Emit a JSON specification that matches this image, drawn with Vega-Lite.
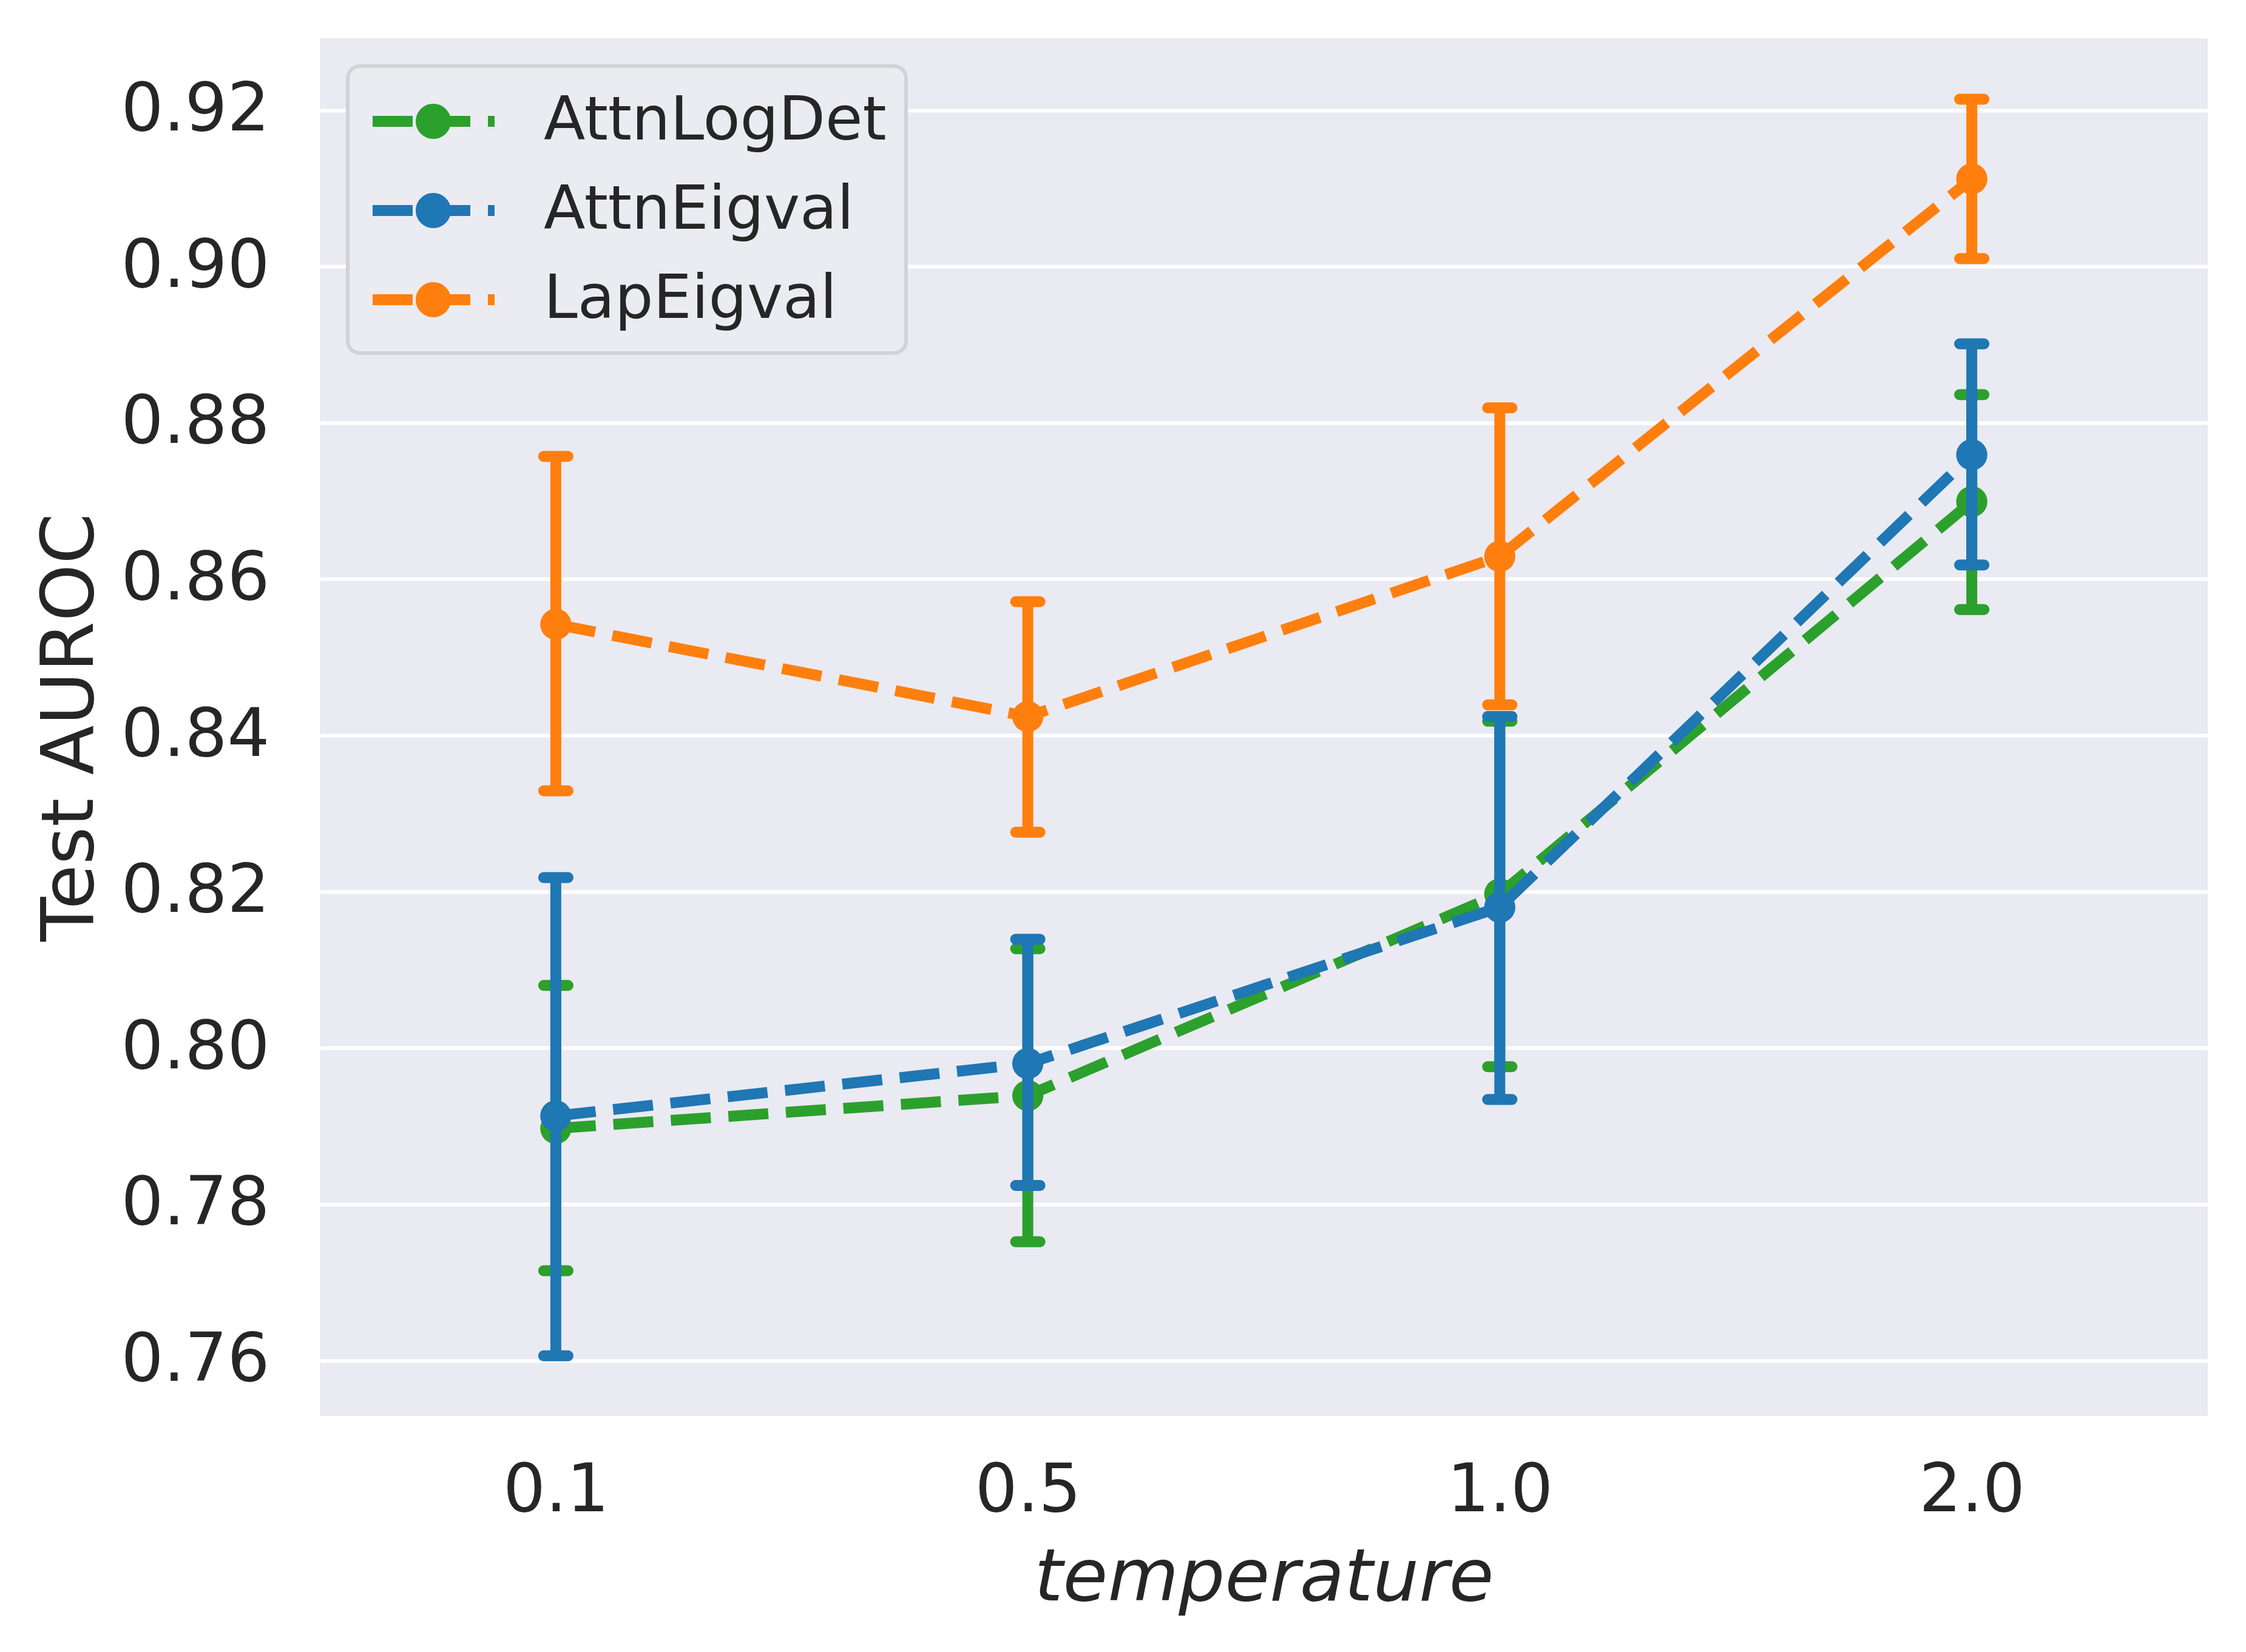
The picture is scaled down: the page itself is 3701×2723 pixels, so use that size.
{
  "$schema": "https://vega.github.io/schema/vega-lite/v6.json",
  "width": 3111,
  "height": 2271,
  "autosize": {"type": "none"},
  "padding": {"left": 527, "top": 63, "right": 63, "bottom": 389},
  "background": "white",
  "data": {
    "values": [
      {"series": "AttnLogDet", "temperature": "0.1", "mean": 0.7897, "lo": 0.7715, "hi": 0.8080},
      {"series": "AttnLogDet", "temperature": "0.5", "mean": 0.7939, "lo": 0.7752, "hi": 0.8127},
      {"series": "AttnLogDet", "temperature": "1.0", "mean": 0.8197, "lo": 0.7976, "hi": 0.8418},
      {"series": "AttnLogDet", "temperature": "2.0", "mean": 0.8699, "lo": 0.8561, "hi": 0.8836},
      {"series": "AttnEigval", "temperature": "0.1", "mean": 0.7913, "lo": 0.7606, "hi": 0.8218},
      {"series": "AttnEigval", "temperature": "0.5", "mean": 0.7980, "lo": 0.7824, "hi": 0.8139},
      {"series": "AttnEigval", "temperature": "1.0", "mean": 0.8180, "lo": 0.7934, "hi": 0.8424},
      {"series": "AttnEigval", "temperature": "2.0", "mean": 0.8759, "lo": 0.8618, "hi": 0.8901},
      {"series": "LapEigval", "temperature": "0.1", "mean": 0.8542, "lo": 0.8329, "hi": 0.8757},
      {"series": "LapEigval", "temperature": "0.5", "mean": 0.8424, "lo": 0.8276, "hi": 0.8571},
      {"series": "LapEigval", "temperature": "1.0", "mean": 0.8629, "lo": 0.8439, "hi": 0.8819},
      {"series": "LapEigval", "temperature": "2.0", "mean": 0.9112, "lo": 0.9010, "hi": 0.9214}
    ]
  },
  "encoding": {
    "x": {
      "field": "temperature",
      "type": "ordinal",
      "sort": ["0.1", "0.5", "1.0", "2.0"],
      "scale": {"type": "point", "padding": 0.5},
      "axis": {"title": "temperature", "titleFontStyle": "italic", "labelAngle": 0, "grid": false, "labelPadding": 69, "titlePadding": 30}
    },
    "color": {
      "field": "series",
      "type": "nominal",
      "scale": {"domain": ["AttnLogDet", "AttnEigval", "LapEigval"], "range": ["#2ca02c", "#1f77b4", "#ff7f0e"]},
      "legend": {
        "title": null,
        "orient": "top-left",
        "offset": 46,
        "padding": 32,
        "fillColor": "#ebebf2",
        "strokeColor": "#d2d2d6",
        "cornerRadius": 20,
        "symbolType": "M-2,0L-0.68,0M-0.1,0L1.22,0M1.8,0L2.02,0M-0.4,0A0.4,0.4,0,1,1,0.4,0A0.4,0.4,0,1,1,-0.4,0Z",
        "symbolSize": 10000,
        "symbolStrokeWidth": 18,
        "symbolOffset": 50,
        "labelOffset": 123,
        "labelFontSize": 100,
        "labelFont": "DejaVu Sans",
        "labelColor": "#262626",
        "labelLimit": 2000,
        "rowPadding": 32,
        "encode": {
          "legend": {"update": {"strokeWidth": {"value": 6}}},
          "symbols": {
            "update": {
              "fill": {"scale": "color", "field": "value"},
              "stroke": {"scale": "color", "field": "value"},
              "strokeWidth": {"value": 18},
              "strokeDash": {"value": []},
              "opacity": {"value": 1},
              "fillOpacity": {"value": 1},
              "strokeOpacity": {"value": 1}
            }
          }
        }
      }
    }
  },
  "layer": [
    {
      "transform": [{"filter": "datum.series === 'AttnLogDet'"}],
      "layer": [
        {"mark": {"type": "rule", "strokeWidth": 18}, "encoding": {"y": {"field": "lo", "type": "quantitative", "scale": {"domain": [0.7529, 0.9292], "nice": false, "zero": false}, "axis": {"title": "Test AUROC", "values": [0.76, 0.78, 0.8, 0.82, 0.84, 0.86, 0.88, 0.9, 0.92], "format": ".2f", "labelPadding": 83, "titlePadding": 150, "grid": true, "labelLimit": 1000}}, "y2": {"field": "hi"}}},
        {"mark": {"type": "tick", "size": 58, "thickness": 18, "cornerRadius": 9, "opacity": 1}, "encoding": {"y": {"field": "lo", "type": "quantitative", "axis": {"title": "Test AUROC", "values": [0.76, 0.78, 0.8, 0.82, 0.84, 0.86, 0.88, 0.9, 0.92], "format": ".2f", "labelPadding": 83, "titlePadding": 150, "grid": true, "labelLimit": 1000}}}},
        {"mark": {"type": "tick", "size": 58, "thickness": 18, "cornerRadius": 9, "opacity": 1}, "encoding": {"y": {"field": "hi", "type": "quantitative", "axis": {"title": "Test AUROC", "values": [0.76, 0.78, 0.8, 0.82, 0.84, 0.86, 0.88, 0.9, 0.92], "format": ".2f", "labelPadding": 83, "titlePadding": 150, "grid": true, "labelLimit": 1000}}}},
        {"mark": {"type": "line", "strokeWidth": 18, "strokeDash": [66, 29]}, "encoding": {"y": {"field": "mean", "type": "quantitative", "axis": {"title": "Test AUROC", "values": [0.76, 0.78, 0.8, 0.82, 0.84, 0.86, 0.88, 0.9, 0.92], "format": ".2f", "labelPadding": 83, "titlePadding": 150, "grid": true, "labelLimit": 1000}}}},
        {"mark": {"type": "point", "filled": true, "size": 2640, "opacity": 1}, "encoding": {"y": {"field": "mean", "type": "quantitative", "axis": {"title": "Test AUROC", "values": [0.76, 0.78, 0.8, 0.82, 0.84, 0.86, 0.88, 0.9, 0.92], "format": ".2f", "labelPadding": 83, "titlePadding": 150, "grid": true, "labelLimit": 1000}}}}
      ]
    },
    {
      "transform": [{"filter": "datum.series === 'AttnEigval'"}],
      "layer": [
        {"mark": {"type": "rule", "strokeWidth": 18}, "encoding": {"y": {"field": "lo", "type": "quantitative", "axis": {"title": "Test AUROC", "values": [0.76, 0.78, 0.8, 0.82, 0.84, 0.86, 0.88, 0.9, 0.92], "format": ".2f", "labelPadding": 83, "titlePadding": 150, "grid": true, "labelLimit": 1000}}, "y2": {"field": "hi"}}},
        {"mark": {"type": "tick", "size": 58, "thickness": 18, "cornerRadius": 9, "opacity": 1}, "encoding": {"y": {"field": "lo", "type": "quantitative", "axis": {"title": "Test AUROC", "values": [0.76, 0.78, 0.8, 0.82, 0.84, 0.86, 0.88, 0.9, 0.92], "format": ".2f", "labelPadding": 83, "titlePadding": 150, "grid": true, "labelLimit": 1000}}}},
        {"mark": {"type": "tick", "size": 58, "thickness": 18, "cornerRadius": 9, "opacity": 1}, "encoding": {"y": {"field": "hi", "type": "quantitative", "axis": {"title": "Test AUROC", "values": [0.76, 0.78, 0.8, 0.82, 0.84, 0.86, 0.88, 0.9, 0.92], "format": ".2f", "labelPadding": 83, "titlePadding": 150, "grid": true, "labelLimit": 1000}}}},
        {"mark": {"type": "line", "strokeWidth": 18, "strokeDash": [66, 29]}, "encoding": {"y": {"field": "mean", "type": "quantitative", "axis": {"title": "Test AUROC", "values": [0.76, 0.78, 0.8, 0.82, 0.84, 0.86, 0.88, 0.9, 0.92], "format": ".2f", "labelPadding": 83, "titlePadding": 150, "grid": true, "labelLimit": 1000}}}},
        {"mark": {"type": "point", "filled": true, "size": 2640, "opacity": 1}, "encoding": {"y": {"field": "mean", "type": "quantitative", "axis": {"title": "Test AUROC", "values": [0.76, 0.78, 0.8, 0.82, 0.84, 0.86, 0.88, 0.9, 0.92], "format": ".2f", "labelPadding": 83, "titlePadding": 150, "grid": true, "labelLimit": 1000}}}}
      ]
    },
    {
      "transform": [{"filter": "datum.series === 'LapEigval'"}],
      "layer": [
        {"mark": {"type": "rule", "strokeWidth": 18}, "encoding": {"y": {"field": "lo", "type": "quantitative", "axis": {"title": "Test AUROC", "values": [0.76, 0.78, 0.8, 0.82, 0.84, 0.86, 0.88, 0.9, 0.92], "format": ".2f", "labelPadding": 83, "titlePadding": 150, "grid": true, "labelLimit": 1000}}, "y2": {"field": "hi"}}},
        {"mark": {"type": "tick", "size": 58, "thickness": 18, "cornerRadius": 9, "opacity": 1}, "encoding": {"y": {"field": "lo", "type": "quantitative", "axis": {"title": "Test AUROC", "values": [0.76, 0.78, 0.8, 0.82, 0.84, 0.86, 0.88, 0.9, 0.92], "format": ".2f", "labelPadding": 83, "titlePadding": 150, "grid": true, "labelLimit": 1000}}}},
        {"mark": {"type": "tick", "size": 58, "thickness": 18, "cornerRadius": 9, "opacity": 1}, "encoding": {"y": {"field": "hi", "type": "quantitative", "axis": {"title": "Test AUROC", "values": [0.76, 0.78, 0.8, 0.82, 0.84, 0.86, 0.88, 0.9, 0.92], "format": ".2f", "labelPadding": 83, "titlePadding": 150, "grid": true, "labelLimit": 1000}}}},
        {"mark": {"type": "line", "strokeWidth": 18, "strokeDash": [66, 29]}, "encoding": {"y": {"field": "mean", "type": "quantitative", "axis": {"title": "Test AUROC", "values": [0.76, 0.78, 0.8, 0.82, 0.84, 0.86, 0.88, 0.9, 0.92], "format": ".2f", "labelPadding": 83, "titlePadding": 150, "grid": true, "labelLimit": 1000}}}},
        {"mark": {"type": "point", "filled": true, "size": 2640, "opacity": 1}, "encoding": {"y": {"field": "mean", "type": "quantitative", "axis": {"title": "Test AUROC", "values": [0.76, 0.78, 0.8, 0.82, 0.84, 0.86, 0.88, 0.9, 0.92], "format": ".2f", "labelPadding": 83, "titlePadding": 150, "grid": true, "labelLimit": 1000}}}}
      ]
    }
  ],
  "config": {
    "font": "DejaVu Sans",
    "view": {"fill": "#eaeaf2", "stroke": null},
    "axis": {
      "domain": false,
      "ticks": false,
      "tickSize": 0,
      "labelFont": "DejaVu Sans",
      "labelFontSize": 110,
      "labelColor": "#262626",
      "titleFont": "DejaVu Sans",
      "titleFontSize": 120,
      "titleFontWeight": "normal",
      "titleColor": "#262626",
      "gridColor": "white",
      "gridWidth": 6,
      "gridOpacity": 1
    }
  }
}
